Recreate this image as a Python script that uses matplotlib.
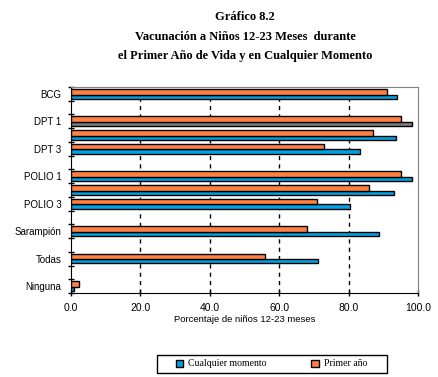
import matplotlib
matplotlib.use("Agg")
import matplotlib.pyplot as plt
from matplotlib.patches import Patch, Rectangle
import numpy as np

# -----------------------------
# DATA
# -----------------------------
categories = ["BCG", "", "DPT 1", "", "DPT 3", "", "POLIO 1", "", "POLIO 3",
              "", "Sarampión", "", "Todas", "", "Ninguna"]
cualquier = [94.0, None, 98.3, 93.7, 83.2, None, 98.3, 93.1, 80.5,
             None, 88.7, None, 71.1, None, 0.8]
primer = [91.1, None, 95.2, 87.0, 72.9, None, 95.2, 85.9, 70.9,
          None, 68.0, None, 55.9, None, 2.2]
xticks = [0, 20, 40, 60, 80, 100]

blue = "#00a2e6"
orange = "#ff8040"

W, H = 438, 377
fig = plt.figure(figsize=(W / 100, H / 100), dpi=100)
ax = fig.add_axes([71 / W, 1 - 293 / H, (418 - 71) / W, (293 - 87) / H])

pos = np.arange(len(categories))
for i in pos:
    if cualquier[i] is None:
        continue
    # excel drew the DPT 1 "cualquier" bar in grey
    bcol = "#808080" if categories[i] == "DPT 1" else blue
    ax.barh(i + 0.05, cualquier[i], height=0.30, align="edge",
            color=bcol, edgecolor="black", linewidth=1, zorder=3)
    ax.barh(i - 0.37, primer[i], height=0.42, align="edge",
            color=orange, edgecolor="black", linewidth=1, zorder=4)

ax.set_ylim(len(categories) - 0.5, -0.5)
ax.set_xlim(0, 100)

# grid
for x in xticks[1:-1]:
    ax.axvline(x, color="black", linewidth=1, linestyle=(0, (3, 3)), zorder=1)

ax.set_xticks(xticks)
ax.set_xticklabels([f"{v:.1f}" for v in xticks], fontsize=7.5,
                   family="Liberation Sans")
ax.set_yticks(pos)
ax.set_yticklabels(categories, fontsize=7, family="Liberation Sans")
ax.set_yticks(np.arange(-0.5, len(categories), 1), minor=True)
ax.tick_params(axis="y", which="major", length=0, pad=7)
ax.tick_params(axis="y", which="minor", length=5, direction="inout", width=1)
ax.tick_params(axis="x", length=5, direction="inout", width=1, pad=5)

ax.set_xlabel("Porcentaje de niños 12-23 meses", fontsize=6.8,
              family="Liberation Sans", labelpad=1)

for s in ["top", "right"]:
    ax.spines[s].set_color("#808080")
for s in ["left", "bottom"]:
    ax.spines[s].set_color("black")

# title
title = ("Gráfico 8.2\nVacunación a Niños 12-23 Meses  durante\n"
         "el Primer Año de Vida y en Cualquier Momento")
fig.text(245 / W, 1 - 11.5 / H, title, ha="center", va="top", fontsize=9,
         fontweight="bold", family="Liberation Serif", linespacing=1.78)

# legend (frame drawn separately so the box size matches)
fig.patches.append(Rectangle((157 / W, 1 - 373 / H), (387 - 157) / W, 18 / H,
                             transform=fig.transFigure, facecolor="white",
                             edgecolor="black", linewidth=1))
handles = [Patch(facecolor=blue, edgecolor="black", linewidth=1),
           Patch(facecolor=orange, edgecolor="black", linewidth=1)]
fig.legend(handles, ["Cualquier momento", "Primer año"], ncol=2,
           loc="center left", bbox_to_anchor=(176 / W, 1 - 364 / H),
           prop={"family": "Liberation Serif", "size": 7},
           frameon=False, borderaxespad=0, borderpad=0,
           handlelength=0.75, handleheight=0.75, handletextpad=0.5,
           columnspacing=4.6)

fig.savefig("out.png", dpi=100)
